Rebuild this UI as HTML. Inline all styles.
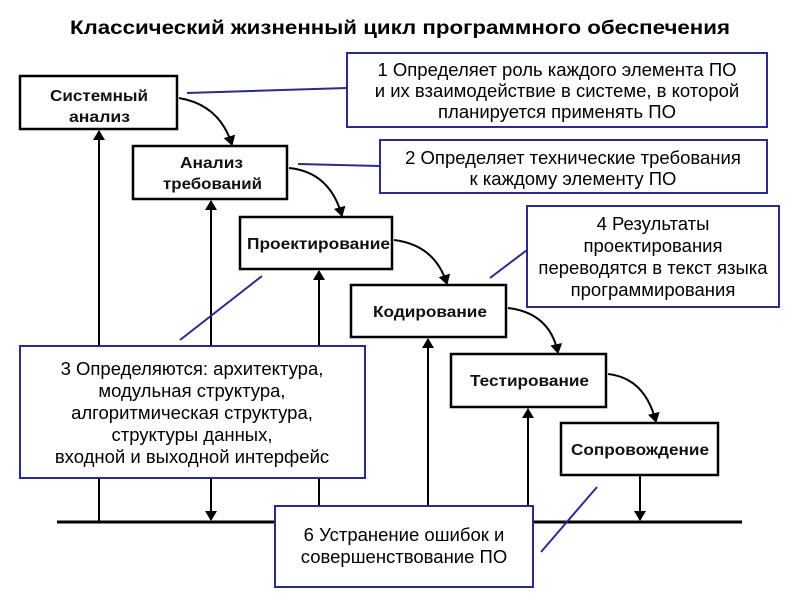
<!DOCTYPE html>
<html><head><meta charset="utf-8"><style>
html,body{margin:0;padding:0;background:#fff}
svg{display:block}
text{font-family:"Liberation Sans","DejaVu Sans",sans-serif}
</style></head><body>
<svg width="800" height="600" viewBox="0 0 800 600" xmlns="http://www.w3.org/2000/svg">
<defs>
<marker id="ah" markerWidth="10" markerHeight="12" refX="9" refY="6" orient="auto" markerUnits="userSpaceOnUse">
<path d="M0,0 L10,6 L0,12 z" fill="#000"/></marker>
</defs>
<text x="70" y="34" font-size="19" font-weight="bold" textLength="660" lengthAdjust="spacingAndGlyphs">Классический жизненный цикл программного обеспечения</text>

<g fill="#fff" stroke="#000" stroke-width="2.5">
<rect x="20" y="76" width="157" height="53"/>
<rect x="133" y="146" width="154" height="53"/>
<rect x="240" y="217" width="152" height="52"/>
<rect x="351" y="285" width="155" height="52"/>
<rect x="451" y="354" width="155" height="53"/>
<rect x="561" y="423" width="157" height="52"/>
</g>
<g font-size="16" font-weight="bold" fill="#111" lengthAdjust="spacingAndGlyphs">
<text x="50" y="101" textLength="98" lengthAdjust="spacingAndGlyphs">Системный</text>
<text x="69" y="122" textLength="61" lengthAdjust="spacingAndGlyphs">анализ</text>
<text x="180" y="168" textLength="63" lengthAdjust="spacingAndGlyphs">Анализ</text>
<text x="163" y="189" textLength="99" lengthAdjust="spacingAndGlyphs">требований</text>
<text x="247" y="249" textLength="143" lengthAdjust="spacingAndGlyphs">Проектирование</text>
<text x="373" y="317" textLength="114" lengthAdjust="spacingAndGlyphs">Кодирование</text>
<text x="470" y="386" textLength="119" lengthAdjust="spacingAndGlyphs">Тестирование</text>
<text x="571" y="455" textLength="138" lengthAdjust="spacingAndGlyphs">Сопровождение</text>
</g>

<g stroke="#000" stroke-width="2" fill="none">
<line x1="57" y1="522" x2="742" y2="522" stroke-width="3"/>
<line x1="99" y1="522" x2="99" y2="131" marker-end="url(#ah)"/>
<line x1="211" y1="300" x2="211" y2="201" marker-end="url(#ah)"/>
<line x1="211" y1="300" x2="211" y2="520" marker-end="url(#ah)"/>
<line x1="319" y1="522" x2="319" y2="271" marker-end="url(#ah)"/>
<line x1="428" y1="522" x2="428" y2="339" marker-end="url(#ah)"/>
<line x1="528" y1="522" x2="528" y2="409" marker-end="url(#ah)"/>
<line x1="640" y1="475" x2="640" y2="520" marker-end="url(#ah)"/>
<path d="M179,98 Q220,105 232,145" marker-end="url(#ah)"/>
<path d="M289,168 Q330,172 342,216" marker-end="url(#ah)"/>
<path d="M394,240 Q435,245 447,284" marker-end="url(#ah)"/>
<path d="M508,308 Q550,313 558,353" marker-end="url(#ah)"/>
<path d="M608,374 Q645,378 656,422" marker-end="url(#ah)"/>
</g>

<g stroke="#2b2b8c" stroke-width="2" fill="none">
<line x1="187" y1="93" x2="347" y2="88"/>
<line x1="298" y1="164" x2="380" y2="166"/>
<line x1="180" y1="340" x2="262" y2="276"/>
<line x1="490" y1="278" x2="527" y2="250"/>
<line x1="541" y1="552" x2="597" y2="487"/>
</g>
<g fill="#fff" stroke="#2b2b8c" stroke-width="2">
<rect x="347" y="53" width="420" height="74"/>
<rect x="380" y="140" width="387" height="53"/>
<rect x="527" y="206" width="252" height="101"/>
<rect x="20" y="346" width="345" height="132"/>
<rect x="275" y="506" width="258" height="81"/>
</g>
<g font-size="18.5" text-anchor="middle" fill="#000">
<text x="557" y="76">1 Определяет роль каждого элемента ПО</text>
<text x="557" y="97">и их взаимодействие в системе, в которой</text>
<text x="557" y="118">планируется применять ПО</text>
<text x="573" y="164">2 Определяет технические требования</text>
<text x="573" y="185">к каждому элементу ПО</text>
<text x="653" y="230">4 Результаты</text>
<text x="653" y="252">проектирования</text>
<text x="653" y="274">переводятся в текст языка</text>
<text x="653" y="296">программирования</text>
<text x="192" y="375">3 Определяются: архитектура,</text>
<text x="192" y="397">модульная структура,</text>
<text x="192" y="419">алгоритмическая структура,</text>
<text x="192" y="441">структуры данных,</text>
<text x="192" y="463">входной и выходной интерфейс</text>
<text x="404" y="541">6 Устранение ошибок и</text>
<text x="404" y="563">совершенствование ПО</text>
</g>
</svg>
</body></html>
